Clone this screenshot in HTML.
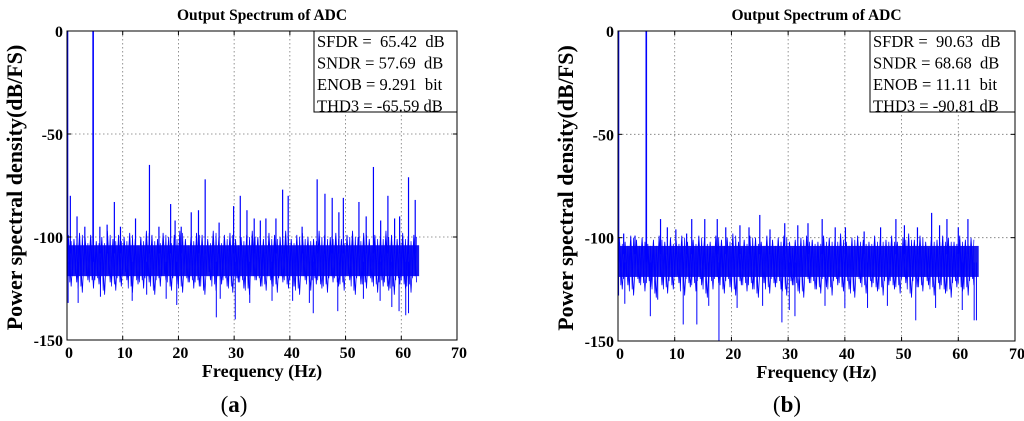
<!DOCTYPE html>
<html><head><meta charset="utf-8"><style>
html,body{margin:0;padding:0;background:#fff;width:1024px;height:421px;overflow:hidden}
svg text{font-family:"Liberation Serif",serif}
</style></head><body>
<svg id="chart" width="1024" height="421" viewBox="0 0 1024 421"></svg>
<script>
// ---- data ----
const xTicks=[0,10,20,30,40,50,60,70];
const yTicks=[0,-50,-100,-150];
const toneA=[[0,0],[4.6,0]];
const spursA=[[0.6,-80],[1.8,-90],[3.2,-95],[5.9,-95],[7.2,-94],[8.5,-83],[9.6,-95],[12.3,-91],[14.8,-65],[16.5,-95],[18.6,-84],[19.4,-92],[20.5,-95],[22.3,-88],[23.6,-87],[24.8,-72],[27.3,-93],[29.9,-85],[31.1,-80],[32.3,-87],[33.6,-91],[34.7,-92],[35.7,-91],[37.5,-91],[38.7,-77],[39.7,-80],[42.2,-95],[44.9,-72],[46.3,-79],[47.6,-81],[48.8,-88],[49.6,-81],[52.4,-83],[53.7,-90],[55.0,-66],[56.3,-92],[57.6,-80],[58.8,-91],[59.7,-90],[61.3,-71],[62.5,-82]];
const dipsA=[[0.2,-132],[2.0,-132],[6.0,-129],[11.7,-131],[14.3,-128],[17.8,-130],[19.7,-133],[26.8,-139],[27.5,-130],[30.2,-140],[32.8,-132],[36.8,-131],[40.5,-131],[43.5,-132],[44.2,-137],[48.6,-136],[53.2,-130],[56.2,-131],[58.3,-134],[59.6,-136],[60.8,-138],[61.3,-137]];
const toneB=[[0,0],[4.9,0]];
const spursB=[[1.0,-98],[3.0,-99],[7.5,-91],[8.7,-95],[10.2,-96],[12.1,-98],[13.0,-91],[15.3,-91],[17.5,-91],[19.0,-95],[21.5,-94],[23.1,-95],[25.0,-89],[26.8,-96],[29.4,-93],[31.7,-94],[33.5,-93],[36.0,-91],[38.3,-95],[40.1,-95],[43.4,-97],[46.3,-95],[49.0,-91],[50.5,-94],[52.8,-95],[55.3,-88],[56.7,-94],[58.0,-91],[60.0,-95],[61.7,-91]];
const dipsB=[[0.1,-128],[1.2,-132],[5.7,-138],[7.0,-130],[11.5,-142],[13.9,-142],[16.0,-133],[17.8,-150],[21.0,-134],[25.5,-133],[28.9,-141],[30.2,-135],[31.2,-138],[36.5,-133],[40.0,-134],[44.0,-134],[47.5,-133],[52.5,-140],[56.0,-134],[60.7,-135],[62.8,-140],[63.2,-140]];
const noiseTopA=[-99,-101,-98,-100,-99,-102,-100,-97,-101,-99,-100,-98,-101,-100,-97,-99,-101,-98,-100,-99,-97,-101,-100,-98,-99,-101,-97,-100,-99,-98,-101,-100,-99,-97,-100,-101,-98,-99,-100,-97,-101,-99,-98,-100,-101,-97,-99,-100,-98,-101,-99,-97,-100,-98,-101,-99,-100,-97,-99,-101,-98,-100,-99];
const noiseBotA=[-124,-122,-127,-121,-125,-123,-128,-122,-126,-124,-121,-127,-123,-125,-122,-128,-124,-121,-126,-123,-127,-122,-125,-124,-128,-121,-126,-123,-124,-127,-122,-125,-128,-121,-124,-126,-123,-127,-122,-125,-124,-128,-121,-126,-123,-125,-127,-122,-124,-126,-121,-128,-123,-125,-122,-127,-124,-126,-128,-123,-125,-127,-122];
const noiseTopB=[-100,-102,-99,-101,-100,-103,-101,-99,-102,-100,-101,-99,-102,-101,-99,-100,-102,-99,-101,-100,-98,-102,-101,-99,-100,-102,-99,-101,-100,-99,-102,-101,-100,-99,-101,-102,-99,-100,-101,-98,-102,-100,-99,-101,-102,-99,-100,-101,-99,-102,-100,-98,-101,-99,-102,-100,-101,-99,-100,-102,-99,-101,-100];
const noiseBotB=[-125,-123,-128,-122,-126,-124,-129,-123,-127,-125,-122,-128,-124,-126,-123,-129,-125,-122,-127,-124,-128,-123,-126,-125,-129,-122,-127,-124,-125,-128,-123,-126,-129,-122,-125,-127,-124,-128,-123,-126,-125,-129,-122,-127,-124,-126,-128,-123,-125,-127,-122,-129,-124,-126,-123,-128,-125,-127,-129,-124,-126,-128,-123];
const statsA=["SFDR =  65.42  dB","SNDR = 57.69  dB","ENOB = 9.291  bit","THD3 = -65.59 dB"];
const statsB=["SFDR =  90.63  dB","SNDR = 68.68  dB","ENOB = 11.11  bit","THD3 = -90.81 dB"];

const NS="http://www.w3.org/2000/svg";
const svg=document.getElementById('chart');
function mk(tag,attrs,parent,text){const e=document.createElementNS(NS,tag);for(const k in attrs)e.setAttribute(k,attrs[k]);if(text!==undefined)e.textContent=text;(parent||svg).appendChild(e);return e;}

function panel(id,L,R,T,B,tone,spurs,dips,nTop,nBot,fEnd,stats,boxL,cap,capX){
  const g=mk('g',{});
  
  
  const X=f=>L+(f-0)/70*(R-L), Y=v=>T+(0-v)/150*(B-T);
  xTicks.slice(1,-1).forEach(t=>{const l=mk('line',{x1:X(t),x2:X(t),y1:T,y2:B,stroke:'#777','stroke-dasharray':'1.5,2.5','stroke-width':0.8},g);});
  yTicks.slice(1,-1).forEach(t=>{const l=mk('line',{x1:L,x2:R,y1:Y(t),y2:Y(t),stroke:'#777','stroke-dasharray':'1.5,2.5','stroke-width':0.8},g);});
  const band=mk('rect',{x:X(0),y:Y(-104),width:X(fEnd)-X(0),height:Y(-119)-Y(-104),fill:'#1a1aee'},g);
  
  let d='';
  nTop.forEach((v,i)=>{const f1=Math.min(i+0.25,fEnd),f2=Math.min(i+0.75,fEnd);d+=(i?'L':'M')+X(f1)+','+Y(v)+'L'+X(f2)+','+Y(nBot[i]);});
  const nz=mk('path',{d:d,fill:'none',stroke:'#0000ff','stroke-width':0.8},g);
  
  let d2='';
  for(let i=0;i<nTop.length*4;i++){const f=i/4;if(f>fEnd)break;const k=Math.floor(f);const v=(i%2)?(nTop[k]-3+(i%3)):(nBot[k]+4-(i%3));d2+=(i?'L':'M')+X(f)+','+Y(v);}
  const nz2=mk('path',{d:d2,fill:'none',stroke:'#0000ff','stroke-width':0.7},g);
  
  spurs.forEach(s=>{const l=mk('line',{x1:X(s[0]),x2:X(s[0]),y1:Y(-108),y2:Y(s[1]),stroke:'#0000ff','stroke-width':1.2},g);});
  dips.forEach(s=>{const l=mk('line',{x1:X(s[0]),x2:X(s[0]),y1:Y(-112),y2:Y(s[1]),stroke:'#0000ff','stroke-width':1},g);});
  tone.forEach(s=>{const l=mk('line',{x1:X(s[0])+0.5,x2:X(s[0])+0.5,y1:Y(-112),y2:Y(s[1]),stroke:'#0000ff','stroke-width':1.6},g);});
  const bx=mk('rect',{x:L,y:T,width:R-L,height:B-T,fill:'none',stroke:'#000','stroke-width':1},g);
  
  xTicks.forEach(t=>{mk('line',{x1:X(t),x2:X(t),y1:B,y2:B-4,stroke:'#000'},g);mk('line',{x1:X(t),x2:X(t),y1:T,y2:T+4,stroke:'#000'},g);
    const tx=mk('text',{x:X(t)+2,y:B+18,'text-anchor':'middle','font-size':16,'font-weight':'bold'},g,String(t));});
  yTicks.forEach(t=>{mk('line',{x1:L,x2:L+4,y1:Y(t),y2:Y(t),stroke:'#000'},g);mk('line',{x1:R,x2:R-4,y1:Y(t),y2:Y(t),stroke:'#000'},g);
    const tx=mk('text',{x:L-4,y:Y(t)+6,'text-anchor':'end','font-size':16,'font-weight':'bold'},g,String(t));});
  const ti=mk('text',{x:(L+R)/2,y:20,'text-anchor':'middle','font-size':15.5,'font-weight':'bold'},g,'Output Spectrum of ADC');
  
  const xl=mk('text',{x:(L+R)/2,y:B+37,'text-anchor':'middle','font-size':18,'font-weight':'bold'},g,'Frequency (Hz)');
  
  const yx=L-45, yy=(T+B)/2+2;
  const yl=mk('text',{x:yx,y:yy,'text-anchor':'middle','font-size':22,'font-weight':'bold',transform:'rotate(-90 '+yx+' '+yy+')'},g,'Power spectral density(dB/FS)');
  
  const lg=mk('rect',{x:boxL,y:T,width:R-boxL,height:81,fill:'#fff',stroke:'#000','stroke-width':1},g);
  
  stats.forEach((s,i)=>{const t=mk('text',{x:boxL+3,y:T+16+i*21.5,'font-size':16.5},g,s);t.style.whiteSpace='pre';});
  const c=mk('text',{x:capX,y:412,'text-anchor':'middle','font-size':23},g);
  
  mk('tspan',{},c,'(');mk('tspan',{'font-weight':'bold'},c,cap);mk('tspan',{},c,')');
}
panel('a',67,457,31,340,toneA,spursA,dipsA,noiseTopA,noiseBotA,63.2,statsA,314,'a',234);
panel('b',618,1015,31,341,toneB,spursB,dipsB,noiseTopB,noiseBotB,63.6,statsB,870,'b',787);
</script>
</body></html>
